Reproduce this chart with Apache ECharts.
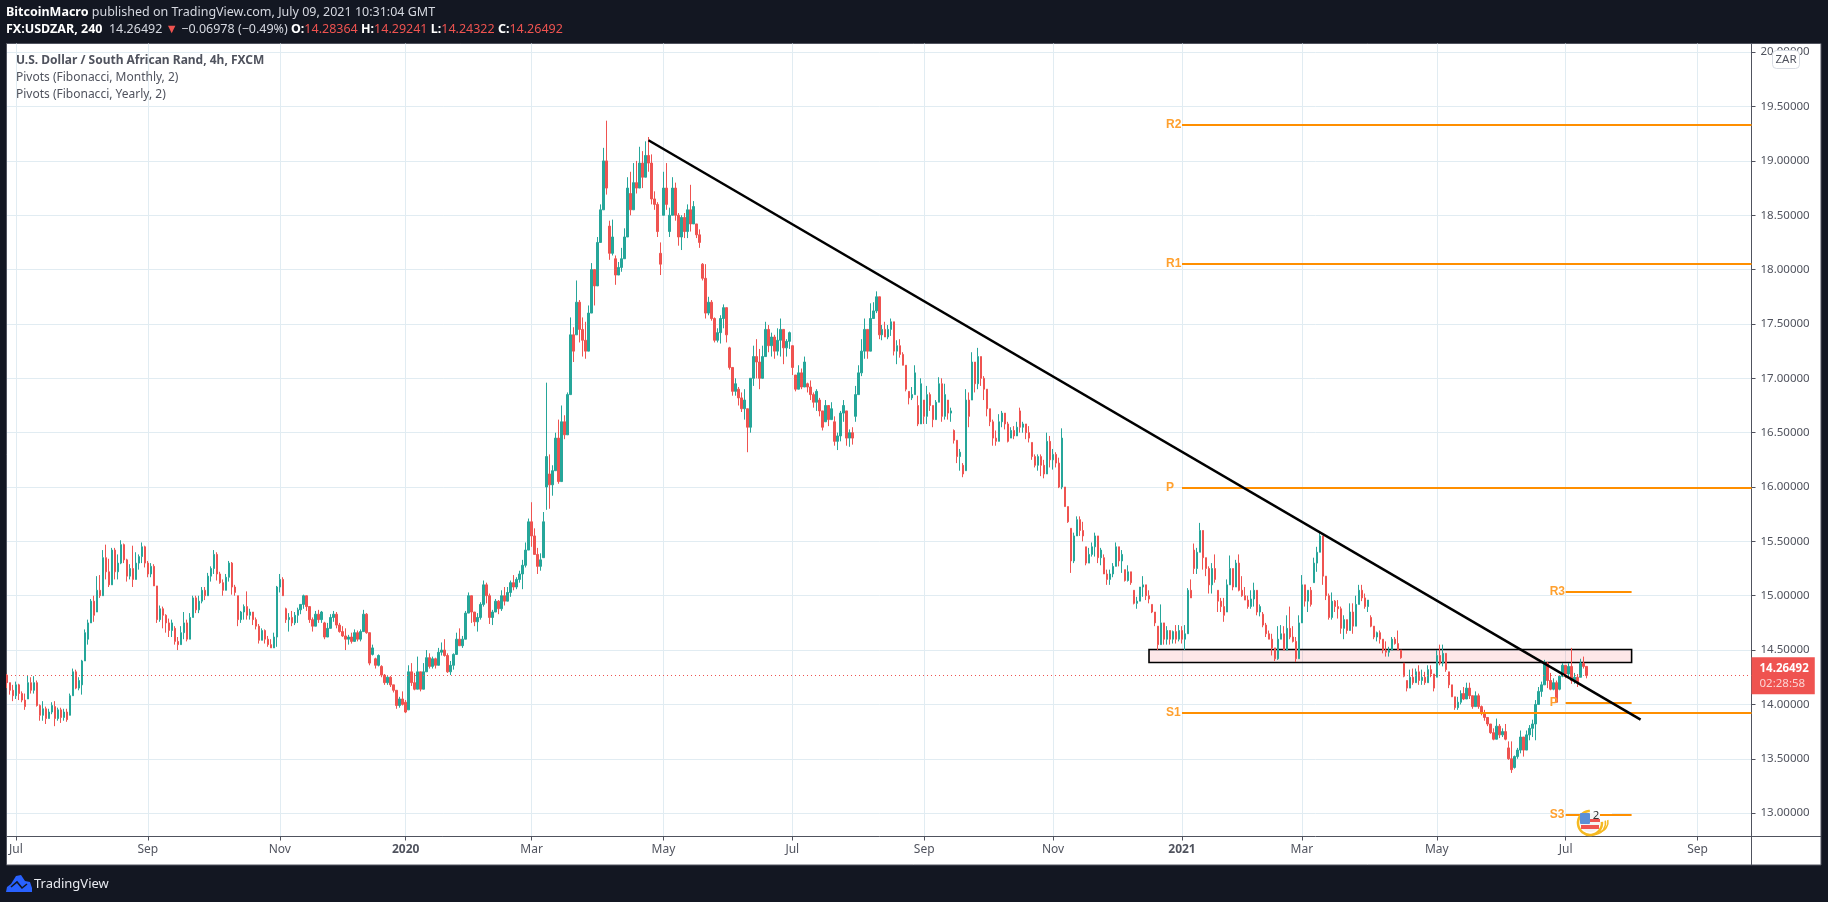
<!DOCTYPE html>
<html><head><meta charset="utf-8"><style>html,body{margin:0;padding:0;background:#131722}#c{width:1828px;height:902px}</style>
<script src="https://cdn.jsdelivr.net/npm/echarts@6/dist/echarts.min.js"></script></head><body><div id="c"></div>
<script>
// rows: [open, close, low, high]
const candlesA=[
[14.27,14.2,14.15,14.28],[14.2,14.13,14.09,14.2],[14.13,14.08,14.03,14.18],[14.08,14.18,14.05,14.21],[14.18,14.1,14.04,14.19],[14.1,14.04,14.02,14.12],[14.04,13.98,13.95,14.1],[14.05,14.2,14.05,14.27],[14.2,14.13,14.1,14.25],[14.13,14.2,14.1,14.26],
[14.2,13.99,13.98,14.22],[13.99,13.9,13.85,14.0],[13.9,13.96,13.85,14.03],[13.96,13.87,13.82,13.98],[13.87,13.93,13.87,13.96],[13.93,13.99,13.91,14.02],[13.98,13.87,13.8,14.03],[13.87,13.95,13.85,13.97],[13.95,13.88,13.83,13.97],[13.88,13.93,13.85,13.96],
[13.93,13.86,13.84,13.96],[13.9,14.08,13.9,14.1],[14.08,14.3,14.08,14.33],[14.3,14.15,14.14,14.32],[14.15,14.22,14.13,14.25],[14.18,14.4,14.09,14.41],[14.4,14.66,14.4,14.69],[14.6,14.75,14.55,14.78],[14.75,14.95,14.75,14.97],[14.95,14.82,14.76,15.0],
[14.85,15.05,14.85,15.18],[15.05,15.0,14.98,15.19],[15.0,15.35,15.0,15.42],[15.35,15.22,15.15,15.47],[15.22,15.1,15.08,15.34],[15.1,15.42,15.1,15.44],[15.42,15.22,15.15,15.44],[15.22,15.3,15.15,15.38],[15.3,15.47,15.29,15.51],[15.47,15.33,15.3,15.48],
[15.33,15.18,15.13,15.34],[15.18,15.25,15.15,15.29],[15.25,15.15,15.08,15.46],[15.15,15.3,15.15,15.4],[15.3,15.36,15.24,15.38],[15.36,15.45,15.3,15.49],[15.45,15.3,15.26,15.46],[15.3,15.2,15.17,15.32],[15.2,15.27,15.17,15.3],[15.27,15.09,15.09,15.29],
[15.09,14.78,14.75,15.09],[14.78,14.88,14.76,14.91],[14.88,14.82,14.7,14.9],[14.82,14.75,14.66,14.83],[14.75,14.68,14.62,14.79],[14.68,14.75,14.62,14.78],[14.7,14.58,14.55,14.72],[14.58,14.55,14.5,14.62],[14.55,14.66,14.55,14.72],[14.66,14.75,14.6,14.85],
[14.75,14.6,14.58,14.78],[14.6,14.8,14.6,14.84],[14.8,14.98,14.8,15.0],[14.98,14.87,14.84,15.0],[14.87,14.95,14.84,15.0],[14.95,15.05,14.93,15.08],[15.05,15.0,14.96,15.08],[15.0,15.18,15.0,15.21],[15.18,15.25,15.13,15.27],[15.25,15.38,15.2,15.42],
[15.38,15.2,15.14,15.4],[15.2,15.12,15.11,15.22],[15.12,15.05,15.0,15.15],[15.05,15.17,15.05,15.2],[15.17,15.3,15.13,15.32],[15.3,15.08,15.01,15.31],[15.08,15.03,15.0,15.1],[15.0,14.78,14.72,15.0],[14.78,14.85,14.75,14.86],[14.85,14.9,14.78,14.92],
[14.9,14.82,14.78,15.04],[14.82,14.85,14.78,14.88],[14.85,14.78,14.73,14.85],[14.78,14.72,14.69,14.8],[14.72,14.59,14.56,14.74],[14.59,14.68,14.59,14.7],[14.68,14.6,14.56,14.69],[14.6,14.55,14.53,14.63],[14.55,14.52,14.52,14.6],[14.52,14.62,14.52,14.66],
[14.62,15.08,14.53,15.09],[15.08,15.15,15.03,15.2],[15.15,15.0,15.0,15.17],[14.88,14.78,14.75,14.89],[14.78,14.8,14.67,14.84],[14.8,14.75,14.72,14.86],[14.75,14.82,14.73,14.85],[14.82,14.87,14.75,14.89],[14.87,14.92,14.83,14.92],[14.92,15.0,14.88,15.01]];
const candlesB=[
[15.0,14.9,14.86,15.0],[14.9,14.78,14.75,14.9],[14.78,14.72,14.67,14.8],[14.72,14.83,14.72,14.86],[14.83,14.78,14.75,14.87],[14.78,14.85,14.75,14.86],[14.75,14.62,14.6,14.76],[14.62,14.7,14.62,14.75],[14.7,14.8,14.7,14.83],[14.8,14.83,14.76,14.86],
[14.83,14.73,14.7,14.85],[14.73,14.67,14.66,14.75],[14.67,14.63,14.62,14.72],[14.63,14.6,14.5,14.7],[14.6,14.62,14.55,14.64],[14.62,14.58,14.56,14.66],[14.58,14.66,14.58,14.69],[14.66,14.6,14.58,14.68],[14.6,14.67,14.58,14.69],[14.67,14.83,14.67,14.87],
[14.83,14.66,14.65,14.84],[14.66,14.38,14.36,14.66],[14.46,14.52,14.45,14.55],[14.42,14.36,14.33,14.43],[14.36,14.45,14.35,14.46],[14.35,14.27,14.25,14.36],[14.27,14.2,14.18,14.28],[14.2,14.25,14.18,14.26],[14.25,14.18,14.16,14.26],[14.18,14.13,14.11,14.18],
[14.13,13.99,13.96,14.13],[13.99,14.05,13.97,14.07],[14.05,14.0,13.99,14.12],[14.02,13.93,13.92,14.04],[13.95,14.3,13.95,14.36],[14.3,14.2,14.17,14.38],[14.2,14.14,14.13,14.29],[14.14,14.3,14.14,14.44],[14.3,14.14,14.12,14.3],[14.14,14.3,14.14,14.38],
[14.3,14.43,14.3,14.5],[14.43,14.35,14.33,14.47],[14.35,14.42,14.33,14.44],[14.42,14.36,14.33,14.43],[14.36,14.48,14.36,14.52],[14.48,14.5,14.45,14.57],[14.5,14.45,14.44,14.6],[14.45,14.3,14.29,14.47],[14.3,14.36,14.27,14.4],[14.36,14.46,14.32,14.47],
[14.46,14.6,14.46,14.66],[14.6,14.54,14.54,14.7],[14.54,14.6,14.52,14.63],[14.6,14.84,14.6,14.86],[14.84,15.0,14.84,15.03],[15.0,14.85,14.75,15.0],[14.85,14.76,14.72,14.85],[14.76,14.8,14.67,14.84],[14.8,14.92,14.78,14.94],[14.92,15.1,14.9,15.14],
[15.1,15.0,14.93,15.12],[15.0,14.8,14.74,15.02],[14.8,14.85,14.73,14.87],[14.85,14.95,14.85,14.97],[14.95,14.88,14.83,14.96],[14.88,15.0,14.86,15.05],[15.0,14.95,14.91,15.08],[14.95,15.03,14.95,15.08],[15.03,15.12,14.99,15.14],[15.12,15.08,15.05,15.19],
[15.08,15.15,15.06,15.17],[15.15,15.2,15.12,15.23],[15.2,15.28,15.06,15.33],[15.28,15.42,15.26,15.49],[15.42,15.68,15.42,15.71],[15.68,15.55,15.45,15.86],[15.55,15.38,15.38,15.62],[15.38,15.27,15.2,15.44],[15.27,15.33,15.23,15.39],[15.35,15.68,15.35,15.77],
[16.0,16.28,15.79,16.96],[16.12,16.02,15.8,16.3],[16.02,16.15,15.92,16.2],[16.15,16.45,16.15,16.5],[16.45,16.05,16.03,16.62],[16.05,16.6,16.05,16.75],[16.6,16.48,16.44,16.66],[16.48,16.85,16.48,16.87],[16.85,17.4,16.85,17.56],[17.4,17.25,17.15,17.47],
[17.4,17.7,17.4,17.9],[17.7,17.45,17.33,17.72],[17.45,17.35,17.2,17.56],[17.35,17.25,17.18,17.52],[17.25,17.6,17.25,17.67],[17.6,18.0,17.6,18.06],[18.0,17.85,17.67,18.0],[17.85,18.25,17.85,18.3],[18.25,18.55,18.25,18.6],[18.55,19.0,18.55,19.12]];
const candlesC=[
[19.0,18.75,18.69,19.37],[18.4,18.15,18.09,18.45],[18.15,18.3,18.13,18.46],[18.1,17.95,17.86,18.13],[17.95,18.02,17.95,18.07],[18.02,18.1,17.98,18.2],[18.1,18.3,18.1,18.38],[18.3,18.75,18.3,18.85],[18.7,18.55,18.5,18.9],[18.55,18.8,18.55,18.98],
[18.8,18.75,18.7,19.0],[18.75,18.98,18.75,19.13],[18.98,18.85,18.75,19.09],[18.85,19.05,18.85,19.18],[19.05,18.98,18.9,19.22],[18.98,18.65,18.6,19.06],[18.65,18.6,18.55,18.72],[18.6,18.35,18.3,18.62],[18.15,18.05,17.95,18.25],[18.5,18.75,18.5,18.9],
[18.75,18.6,18.55,18.98],[18.35,18.5,18.3,18.57],[18.5,18.75,18.5,18.85],[18.75,18.5,18.45,18.8],[18.5,18.3,18.22,18.52],[18.3,18.48,18.18,18.5],[18.48,18.35,18.29,18.52],[18.35,18.55,18.29,18.6],[18.55,18.42,18.35,18.78],[18.42,18.58,18.42,18.63],
[18.42,18.32,18.29,18.42],[18.32,18.25,18.2,18.37],[18.05,17.92,17.9,18.06],[17.92,17.6,17.55,18.05],[17.6,17.7,17.58,17.75],[17.7,17.55,17.53,17.72],[17.55,17.35,17.33,17.56],[17.35,17.42,17.33,17.46],[17.42,17.55,17.32,17.58],[17.55,17.65,17.46,17.68],
[17.65,17.4,17.33,17.65],[17.28,17.1,17.08,17.29],[17.1,16.88,16.84,17.1],[16.88,16.95,16.84,17.0],[16.9,16.82,16.75,16.92],[16.82,16.72,16.69,16.87],[16.72,16.8,16.62,16.9],[16.72,16.55,16.32,16.72],[16.55,17.0,16.5,17.0],[17.0,17.2,16.93,17.3],
[17.2,17.15,17.0,17.36],[17.15,17.0,16.9,17.27],[17.0,17.2,17.0,17.3],[17.2,17.45,17.2,17.52],[17.45,17.3,17.24,17.49],[17.3,17.38,17.2,17.42],[17.38,17.25,17.18,17.4],[17.25,17.35,17.21,17.46],[17.35,17.45,17.2,17.55],[17.45,17.28,17.13,17.45],
[17.28,17.34,17.2,17.36],[17.34,17.42,17.27,17.43],[17.3,17.1,17.03,17.3],[17.03,16.9,16.88,17.03],[16.9,17.05,16.9,17.12],[17.05,16.92,16.9,17.09],[16.92,17.15,16.92,17.2],[16.95,16.92,16.87,16.96],[16.92,16.85,16.8,16.98],[16.85,16.78,16.73,16.87],
[16.78,16.88,16.7,16.9],[16.8,16.7,16.65,16.82],[16.7,16.55,16.52,16.7],[16.6,16.75,16.6,16.8],[16.75,16.62,16.56,16.75],[16.62,16.72,16.62,16.78],[16.6,16.42,16.38,16.65],[16.42,16.47,16.34,16.5],[16.47,16.68,16.42,16.7],[16.68,16.75,16.6,16.8],
[16.7,16.45,16.38,16.7],[16.45,16.5,16.37,16.53],[16.5,16.45,16.39,16.55],[16.65,16.85,16.6,16.93],[16.85,17.05,16.85,17.12],[17.05,17.25,17.02,17.36],[17.25,17.45,17.18,17.55],[17.45,17.25,17.18,17.45],[17.25,17.55,17.25,17.69],[17.55,17.62,17.55,17.7],
[17.62,17.75,17.6,17.8],[17.75,17.4,17.36,17.75],[17.4,17.45,17.35,17.49],[17.45,17.38,17.38,17.52],[17.38,17.45,17.36,17.49],[17.45,17.52,17.39,17.55],[17.52,17.25,17.21,17.52],[17.25,17.3,17.13,17.35],[17.3,17.22,17.19,17.36],[17.22,17.12,17.12,17.24]];
const candlesD=[
[17.12,16.9,16.88,17.12],[16.88,16.82,16.76,16.88],[16.82,16.85,16.8,16.92],[16.85,17.05,16.85,17.12],[16.75,16.58,16.56,16.84],[16.58,16.95,16.58,17.0],[16.8,16.65,16.58,16.8],[16.65,16.85,16.58,16.93],[16.85,16.75,16.7,16.87],[16.75,16.62,16.55,16.75],
[16.62,16.78,16.62,16.8],[16.78,16.95,16.78,17.01],[16.95,16.65,16.6,17.0],[16.65,16.85,16.62,16.95],[16.8,16.68,16.62,16.8],[16.68,16.7,16.6,16.73],[16.52,16.43,16.4,16.53],[16.43,16.28,16.22,16.43],[16.28,16.32,16.15,16.35],[16.2,16.12,16.09,16.22],
[16.15,16.8,16.15,16.9],[16.8,16.65,16.55,16.87],[16.8,17.15,16.8,17.24],[17.15,16.95,16.87,17.15],[16.95,17.2,16.9,17.28],[17.2,17.0,16.93,17.2],[17.0,16.9,16.8,17.02],[16.9,16.72,16.65,16.9],[16.72,16.6,16.56,16.72],[16.6,16.45,16.38,16.62],
[16.45,16.42,16.38,16.52],[16.42,16.6,16.42,16.67],[16.6,16.68,16.55,16.7],[16.68,16.58,16.53,16.68],[16.58,16.42,16.41,16.6],[16.45,16.52,16.45,16.55],[16.52,16.47,16.44,16.56],[16.47,16.55,16.47,16.6],[16.7,16.55,16.5,16.73],[16.55,16.58,16.5,16.6],
[16.58,16.5,16.44,16.58],[16.5,16.45,16.41,16.56],[16.41,16.28,16.25,16.41],[16.28,16.2,16.18,16.3],[16.2,16.28,16.15,16.3],[16.28,16.2,16.1,16.3],[16.2,16.12,16.08,16.25],[16.12,16.42,16.12,16.5],[16.42,16.25,16.18,16.47],[16.25,16.3,16.16,16.35],
[16.3,16.22,16.18,16.32],[16.22,16.0,15.99,16.27],[16.0,16.45,15.98,16.54],[16.0,15.82,15.82,16.0],[15.82,15.68,15.67,15.82],[15.62,15.32,15.21,15.62],[15.32,15.55,15.3,15.58],[15.55,15.7,15.55,15.73],[15.7,15.6,15.55,15.73],[15.6,15.55,15.5,15.68],
[15.45,15.3,15.28,15.45],[15.3,15.38,15.3,15.44],[15.38,15.45,15.36,15.49],[15.45,15.55,15.36,15.58],[15.55,15.35,15.3,15.55],[15.35,15.42,15.28,15.44],[15.35,15.2,15.2,15.38],[15.2,15.15,15.1,15.24],[15.15,15.2,15.1,15.24],[15.2,15.27,15.17,15.3],
[15.27,15.45,15.27,15.49],[15.45,15.32,15.27,15.45],[15.32,15.38,15.21,15.42],[15.24,15.14,15.13,15.24],[15.14,15.22,15.13,15.28],[15.22,15.12,15.1,15.22],[15.05,14.93,14.92,15.05],[14.93,14.95,14.88,14.99],[14.95,15.08,14.95,15.08],[15.08,15.1,14.99,15.18],
[15.1,15.0,14.96,15.1],[15.0,14.97,14.93,15.05],[14.92,14.85,14.84,14.92],[14.85,14.75,14.72,14.85],[14.72,14.55,14.5,14.72],[14.55,14.75,14.55,14.92],[14.75,14.6,14.55,14.75],[14.6,14.68,14.55,14.72],[14.68,14.6,14.55,14.68],[14.6,14.67,14.56,14.68],
[14.67,14.6,14.56,14.73],[14.6,14.68,14.58,14.73],[14.68,14.6,14.56,14.72],[14.6,14.65,14.5,14.73],[14.65,15.05,14.65,15.07],[15.05,14.98,14.98,15.15],[15.42,15.25,15.2,15.48],[15.25,15.4,15.2,15.44],[15.4,15.6,15.4,15.67],[15.6,15.35,15.24,15.6]];
const candlesE=[
[15.35,15.25,15.18,15.35],[15.25,15.1,15.02,15.27],[15.1,15.25,15.02,15.3],[15.25,15.15,15.12,15.38],[15.05,14.95,14.85,15.05],[14.95,14.9,14.85,14.98],[14.9,14.82,14.76,14.98],[14.85,15.1,14.85,15.15],[15.1,15.25,15.1,15.37],[15.25,15.08,15.05,15.25],
[15.08,15.3,15.08,15.33],[15.3,15.05,15.04,15.38],[15.05,15.0,14.99,15.18],[15.0,14.96,14.96,15.08],[14.96,14.9,14.88,15.0],[14.9,14.97,14.88,15.05],[14.97,15.05,14.9,15.12],[15.05,14.85,14.82,15.05],[14.85,14.9,14.81,14.92],[14.83,14.73,14.71,14.85],
[14.73,14.65,14.62,14.75],[14.65,14.6,14.6,14.68],[14.6,14.52,14.45,14.65],[14.52,14.42,14.4,14.52],[14.42,14.6,14.41,14.72],[14.6,14.65,14.6,14.73],[14.65,14.5,14.5,14.72],[14.5,14.7,14.5,14.82],[14.7,14.62,14.6,14.9],[14.62,14.58,14.57,14.72],
[14.58,14.42,14.39,14.62],[14.42,14.75,14.42,14.82],[14.75,15.1,14.75,15.19],[15.1,14.95,14.9,15.1],[14.95,15.05,14.85,15.05],[15.05,14.92,14.9,15.08],[15.12,15.3,15.12,15.35],[15.3,15.4,15.22,15.45],[15.4,15.55,15.4,15.58],[15.55,15.18,15.1,15.55],
[15.18,15.0,14.96,15.18],[15.0,14.8,14.78,15.02],[14.8,14.95,14.78,15.03],[14.95,14.9,14.85,14.96],[14.9,14.88,14.79,14.96],[14.88,14.7,14.65,14.9],[14.7,14.78,14.6,14.82],[14.78,14.68,14.65,14.78],[14.68,14.85,14.68,14.93],[14.85,14.72,14.65,14.93],
[14.72,14.92,14.72,15.0],[14.92,15.05,14.92,15.1],[15.05,14.98,14.95,15.1],[14.98,14.9,14.88,15.02],[14.9,14.96,14.85,14.96],[14.8,14.72,14.71,14.82],[14.72,14.62,14.6,14.72],[14.62,14.66,14.58,14.67],[14.66,14.6,14.56,14.68],[14.6,14.5,14.47,14.6],
[14.5,14.48,14.44,14.58],[14.48,14.5,14.44,14.53],[14.5,14.6,14.5,14.62],[14.6,14.56,14.55,14.62],[14.56,14.5,14.5,14.68],[14.5,14.43,14.42,14.5],[14.38,14.26,14.25,14.38],[14.22,14.15,14.12,14.22],[14.15,14.25,14.15,14.32],[14.25,14.2,14.18,14.33],
[14.2,14.3,14.2,14.33],[14.3,14.22,14.18,14.36],[14.22,14.25,14.18,14.32],[14.25,14.2,14.18,14.3],[14.2,14.32,14.2,14.36],[14.32,14.28,14.25,14.36],[14.28,14.15,14.12,14.28],[14.25,14.45,14.25,14.5],[14.45,14.38,14.36,14.55],[14.38,14.47,14.35,14.55],
[14.47,14.32,14.3,14.47],[14.3,14.18,14.15,14.3],[14.18,14.07,14.07,14.18],[14.07,13.97,13.95,14.07],[13.97,14.02,13.95,14.07],[14.02,14.1,14.0,14.13],[14.1,14.05,14.04,14.16],[14.05,14.15,14.05,14.2],[14.15,14.08,14.05,14.2],[14.08,13.98,13.96,14.08],
[13.98,14.08,13.98,14.12],[14.08,13.98,13.96,14.1],[13.98,13.92,13.9,13.99],[13.92,13.88,13.85,13.95],[13.88,13.82,13.8,13.88],[13.82,13.74,13.73,13.82],[13.74,13.68,13.67,13.78],[13.68,13.8,13.68,13.87],[13.8,13.72,13.69,13.82],[13.72,13.75,13.7,13.78]];
const candlesF=[
[13.75,13.68,13.67,13.82],[13.6,13.5,13.49,13.66],[13.5,13.4,13.37,13.66],[13.42,13.52,13.41,13.53],[13.52,13.58,13.5,13.6],[13.58,13.7,13.55,13.76],[13.7,13.58,13.52,13.7],[13.58,13.72,13.58,13.76],[13.72,13.78,13.67,13.81],[13.78,13.82,13.7,13.86],
[13.82,14.0,13.67,14.04],[14.0,14.12,14.0,14.16],[14.12,14.18,14.07,14.21],[14.18,14.38,14.18,14.41],[14.38,14.22,14.15,14.39],[14.22,14.14,14.13,14.29],[14.14,14.2,14.13,14.24],[14.2,14.02,14.02,14.22],[14.14,14.26,14.13,14.27],[14.26,14.36,14.25,14.38],
[14.36,14.28,14.24,14.36],[14.28,14.35,14.25,14.38],[14.35,14.22,14.19,14.52],[14.22,14.25,14.19,14.29],[14.25,14.2,14.16,14.28],[14.25,14.38,14.25,14.42],[14.38,14.35,14.33,14.44],[14.35,14.265,14.24,14.35]];

const tickIndex=[3,47,91,133,175,219,262,306,349,392,432,477,520,564];
const tickLabels=['Jul','Sep','Nov','2020','Mar','May','Jul','Sep','Nov','2021','Mar','May','Jul','Sep'];
const yTicks=[13,13.5,14,14.5,15,15.5,16,16.5,17,17.5,18,18.5,19,19.5,20];
const pivotNames=['R2','R1','P','S1','R3','P','S3'];
const pivotValues=[19.33,18.055,15.99,13.92,15.04,14.017,12.985];
const pivotStart=[392,392,392,392,520,520,520];
const pivotEnd=[582,582,582,582,542,542,542];
const trendFrom=[214,19.19];
const trendTo=[545,13.86];
const zoneFrom=[381,14.505];
const zoneTo=[542,14.385];
const lastPrice=14.26492;
const slotCount=583;

const candles=[].concat(candlesA,candlesB,candlesC,candlesD,candlesE,candlesF);
const categories=[];for(let i=0;i<slotCount;i++)categories.push(String(i));
const tickMap={};tickIndex.forEach((t,i)=>tickMap[t]=tickLabels[i]);
const isTick=i=>tickMap[i]!==undefined;
const UI='"Noto Sans","Open Sans",sans-serif';
const grey='#50535e';
const pivotLines=pivotNames.map((n,i)=>[
 {name:n,coord:[pivotStart[i],pivotValues[i]],lineStyle:{color:'#ff8f00',width:2,type:'solid'},
  label:{show:true,position:'start',align:'left',formatter:'{b}',color:'#ffa02e',fontFamily:'"Liberation Sans",Arial',fontWeight:'bold',fontSize:12,distance:16}},
 {coord:[pivotEnd[i],pivotValues[i]]}]);

const chart=echarts.init(document.getElementById('c'),null,{renderer:'canvas'});
chart.setOption({
 animation:false,backgroundColor:'#131722',
 grid:{left:7,right:76.5,top:43.5,bottom:65.5,containLabel:false},
 xAxis:{type:'category',data:categories,boundaryGap:false,
  axisLine:{onZero:false,lineStyle:{color:grey,width:1}},
  axisTick:{show:true,length:4,interval:i=>isTick(i),lineStyle:{color:grey}},
  splitLine:{show:true,interval:i=>isTick(i),lineStyle:{color:'#e1ecf2',width:1}},
  axisLabel:{interval:i=>isTick(i),margin:7,color:grey,fontFamily:UI,fontSize:12,
   formatter:v=>{const s=tickMap[+v];return /^\d/.test(s)?'{b|'+s+'}':s},
   rich:{b:{fontWeight:'bold',color:grey,fontFamily:UI,fontSize:12}}}},
 yAxis:{type:'value',position:'right',min:12.785,max:20.08,scale:true,
  axisLine:{show:true,onZero:false,lineStyle:{color:grey,width:1}},
  axisTick:{show:true,length:4,customValues:yTicks,lineStyle:{color:grey}},
  splitLine:{show:true,lineStyle:{color:'#e1ecf2',width:1}},
  axisLabel:{customValues:yTicks,margin:9,color:grey,fontFamily:UI,fontSize:11.5,formatter:v=>v.toFixed(5)}},
 series:[{type:'candlestick',data:candles,barWidth:2,clip:false,progressive:0,silent:true,
  itemStyle:{color:'#26a69a',color0:'#ef5350',borderColor:'#26a69a',borderColor0:'#ef5350',borderColorDoji:'#26a69a',borderWidth:1},
  markArea:{silent:true,z:1,itemStyle:{color:'rgba(242,54,69,0.12)',borderColor:'#000',borderWidth:1.6},
   data:[[{coord:zoneFrom},{coord:zoneTo}]]},
  markLine:{silent:true,symbol:['none','none'],animation:false,precision:5,
   data:[...pivotLines,
    [{coord:trendFrom,lineStyle:{color:'#000',width:2.5,type:'solid'},label:{show:false}},{coord:trendTo}],
    [{name:'last',coord:[0,lastPrice],lineStyle:{color:'#ef5350',width:1,type:[1,3]},
      label:{show:true,position:'end',distance:0,padding:[4,6,3,8],backgroundColor:'#ef5350',
       formatter:'{a|14.26492}\n{c|02:28:58}',
       rich:{a:{color:'#fff',fontWeight:'bold',fontFamily:UI,fontSize:11.5,lineHeight:15},c:{color:'rgba(255,255,255,.75)',fontFamily:UI,fontSize:11.5,lineHeight:15}}}},
     {coord:[582,lastPrice]}]]}
 }],
 graphic:{elements:[
  {type:'rect',z:-5,silent:true,shape:{x:6.5,y:43.5,width:1814.5,height:821.5},style:{fill:'#fff',stroke:grey,lineWidth:1}},
  {type:'line',silent:true,shape:{x1:1751.5,y1:836.5,x2:1751.5,y2:865},style:{stroke:grey,lineWidth:1}},
  {type:'line',silent:true,shape:{x1:1751.5,y1:836.5,x2:1821,y2:836.5},style:{stroke:grey,lineWidth:1}},
  {type:'text',silent:true,x:6,y:12,style:{text:'{b|BitcoinMacro} published on TradingView.com, July 09, 2021 10:31:04 GMT',verticalAlign:'middle',fill:'#d5d8e0',fontFamily:UI,fontSize:12.5,
    rich:{b:{fontWeight:'bold',fill:'#fff',fontFamily:UI,fontSize:12.5}}}},
  {type:'text',silent:true,x:6,y:29.5,style:{text:'{b|FX:USDZAR, 240}  14.26492 {d|▼} −0.06978 (−0.49%) {b|O:}{r|14.28364} {b|H:}{r|14.29241} {b|L:}{r|14.24322} {b|C:}{r|14.26492}',verticalAlign:'middle',fill:'#d5d8e0',fontFamily:UI,fontSize:12.5,
    rich:{b:{fill:'#fff',fontWeight:'bold',fontFamily:UI,fontSize:12.5},r:{fill:'#ef5350',fontFamily:UI,fontSize:12.5},d:{fill:'#ef5350',fontFamily:UI,fontSize:12.5}}}},
  {type:'text',silent:true,z:10,x:16,y:60.5,style:{text:'U.S. Dollar / South African Rand, 4h, FXCM',verticalAlign:'middle',fill:grey,font:'bold 12px '+UI}},
  {type:'text',silent:true,z:10,x:16,y:77.5,style:{text:'Pivots (Fibonacci, Monthly, 2)',verticalAlign:'middle',fill:grey,font:'12px '+UI}},
  {type:'text',silent:true,z:10,x:16,y:94.5,style:{text:'Pivots (Fibonacci, Yearly, 2)',verticalAlign:'middle',fill:grey,font:'12px '+UI}},
  {type:'rect',silent:true,shape:{x:1772.5,y:50.5,width:27,height:18,r:4},style:{fill:'#fff',stroke:'#d8dce3',lineWidth:1},z:5},
  {type:'text',silent:true,x:1786,y:59.5,z:6,style:{text:'ZAR',align:'center',verticalAlign:'middle',fill:grey,font:'11.5px '+UI}},
  {type:'rect',silent:true,shape:{x:1590,y:807,width:22,height:15},style:{fill:'#fff'},z:5},
  {type:'arc',silent:true,z:6,shape:{cx:1590,cy:823,r:12,startAngle:-0.1,endAngle:4.7},style:{fill:'none',stroke:'#f5b921',lineWidth:2.5}},
  {type:'arc',silent:true,z:6,shape:{cx:1594,cy:823,r:11.5,startAngle:-0.2,endAngle:1.7},style:{fill:'none',stroke:'#f5b921',lineWidth:1.5}},
  {type:'arc',silent:true,z:6,shape:{cx:1598,cy:822,r:10,startAngle:-0.2,endAngle:1.5},style:{fill:'none',stroke:'#f5b921',lineWidth:1.5}},
  {type:'rect',silent:true,z:7,shape:{x:1580,y:813,width:20,height:19,r:[2,0,9,9]},style:{fill:'#f4f4f4'}},
  {type:'rect',silent:true,z:8,shape:{x:1581,y:825,width:18,height:4},style:{fill:'#ef5350'}},
  {type:'rect',silent:true,z:8,shape:{x:1590,y:819,width:10,height:3},style:{fill:'#ef5350'}},
  {type:'rect',silent:true,z:9,shape:{x:1580,y:813,width:10,height:11,r:1},style:{fill:'#5b8fd6'}},
  {type:'text',silent:true,x:1596,y:815.5,z:10,style:{text:'2',align:'center',verticalAlign:'middle',fill:'#333',font:'11.5px '+UI}},
  {type:'polygon',silent:true,z:2,shape:{points:[[6,892],[7,887],[11,884],[16,876],[21,875],[25,881],[30,882],[32,888],[32,892]]},style:{fill:'#2962ff'}},
  {type:'polyline',silent:true,z:3,shape:{points:[[11,887],[17,882],[22,888],[27,884]]},style:{stroke:'#131722',lineWidth:1.6,fill:'none'}},
  {type:'text',silent:true,x:34,y:884,style:{text:'TradingView',verticalAlign:'middle',fill:'#e8eaf0',font:'13px '+UI}}
 ]}
});
</script></body></html>
